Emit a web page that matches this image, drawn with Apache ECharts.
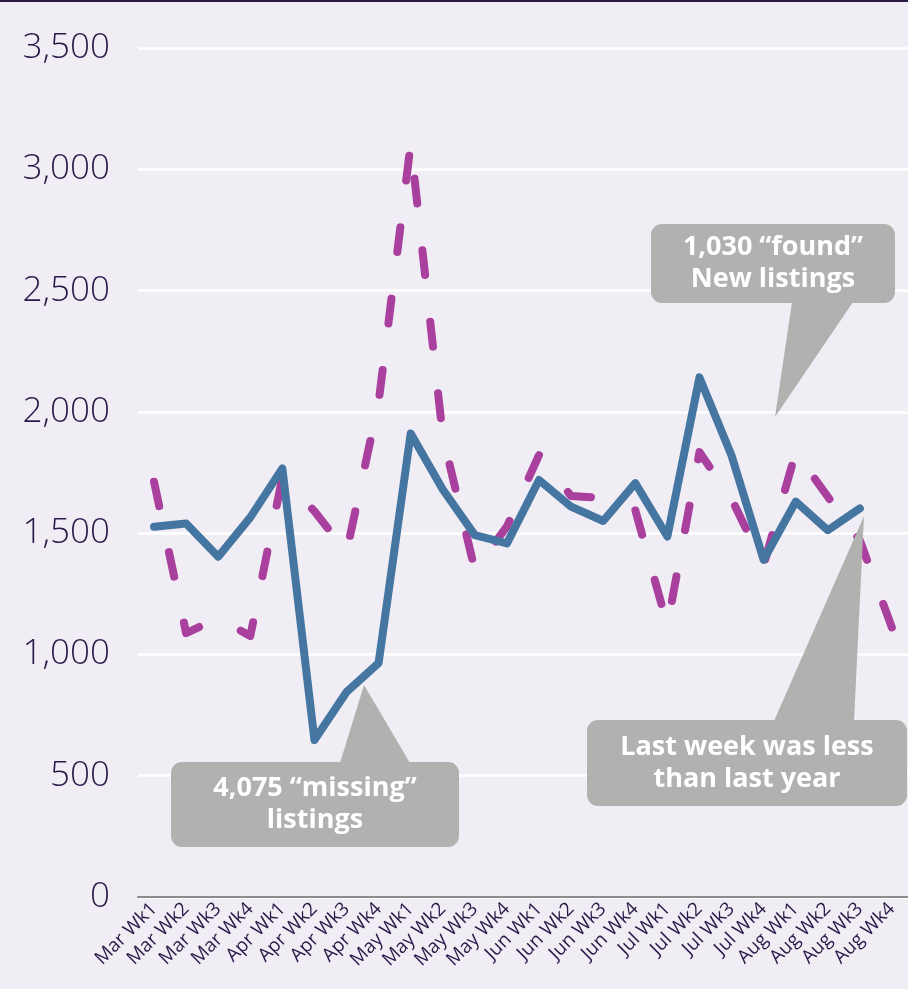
<!DOCTYPE html>
<html>
<head>
<meta charset="utf-8">
<title>New listings</title>
<script src="https://cdn.jsdelivr.net/npm/echarts@6/dist/echarts.min.js"></script>
<style>
  html, body { margin: 0; padding: 0; background: #f0edf5; }
  #chart { width: 908px; height: 989px; }
</style>
</head>
<body>
<div id="chart"></div>
<script>
// categories (weeks)
var weeks = ["Mar Wk1", "Mar Wk2", "Mar Wk3", "Mar Wk4",
  "Apr Wk1", "Apr Wk2", "Apr Wk3", "Apr Wk4",
  "May Wk1", "May Wk2", "May Wk3", "May Wk4",
  "Jun Wk1", "Jun Wk2", "Jun Wk3", "Jun Wk4",
  "Jul Wk1", "Jul Wk2", "Jul Wk3", "Jul Wk4",
  "Aug Wk1", "Aug Wk2", "Aug Wk3", "Aug Wk4"];

// this year (solid blue) - no value yet for the last week
var thisYear = [1526, 1540, 1403, 1565, 1767, 647, 845, 965,
  1911, 1680, 1492, 1458, 1719, 1609, 1550, 1706,
  1486, 2142, 1820, 1390, 1630, 1512, 1602, null];

// last year (dashed magenta)
var lastYear = [1712, 1088, 1150, 1076, 1730, 1590, 1422, 2040,
  3105, 1900, 1348, 1528, 1822, 1653, 1645, 1595,
  1120, 1834, 1641, 1368, 1834, 1650, 1470, 1110];

// y ticks
var yMin = 0;
var yMax = 3500;
var yStep = 500;

var callouts = [
  { text: "4,075 \u201cmissing\u201d\nlistings", box: [171, 762, 288, 85], tri: [[340, 763], [410, 763], [364, 685]] },
  { text: "1,030 \u201cfound\u201d\nNew listings", box: [651, 224, 244, 79], tri: [[792, 302], [853, 302], [775, 417]] },
  { text: "Last week was less\nthan last year", box: [587, 720, 320, 86], tri: [[774, 721], [854, 721], [864, 516]] }
];

var labelColor = "#2b1948";
var calloutColor = "#b1b2b0";

var graphics = [
  // dark rule along the top edge
  { type: "rect", left: 0, top: 0, shape: { width: 908, height: 2 }, style: { fill: "#2a1a45" } }
];
callouts.forEach(function (c) {
  graphics.push({
    type: "polygon", z: 100,
    shape: { points: c.tri },
    style: { fill: calloutColor }
  });
  graphics.push({
    type: "rect", z: 100,
    shape: { x: c.box[0], y: c.box[1], width: c.box[2], height: c.box[3], r: 11 },
    style: { fill: calloutColor }
  });
  graphics.push({
    type: "text", z: 101,
    x: c.box[0] + c.box[2] / 2,
    y: c.box[1] + c.box[3] / 2,
    style: {
      text: c.text,
      fill: "#ffffff",
      font: "bold 27px 'Open Sans', sans-serif",
      lineHeight: 32,
      align: "center",
      verticalAlign: "middle"
    }
  });
});

var chart = echarts.init(document.getElementById("chart"));
var option = {
  backgroundColor: "#f0edf5",
  animation: false,
  grid: { left: 138, top: 48, width: 773, height: 849 },
  xAxis: {
    type: "category",
    data: weeks,
    boundaryGap: true,
    axisLine: { lineStyle: { color: "#8c8c8c", width: 2 } },
    axisTick: { lineStyle: { color: "#8c8c8c", width: 2 }, length: 7 },
    axisLabel: {
      rotate: 45,
      interval: 0,
      margin: 9,
      color: labelColor,
      fontSize: 19,
      fontFamily: "'Open Sans', sans-serif"
    }
  },
  yAxis: {
    type: "value",
    min: yMin,
    max: yMax,
    interval: yStep,
    axisLine: { show: false },
    axisTick: { show: false },
    splitLine: { lineStyle: { color: "#ffffff", width: 2.5 } },
    axisLabel: {
      margin: 28,
      color: labelColor,
      fontSize: 35,
      fontWeight: 300,
      fontFamily: "'Open Sans', sans-serif",
      formatter: function (v) { return v.toLocaleString("en-US"); }
    }
  },
  series: [
    {
      name: "Last year",
      type: "line",
      data: lastYear,
      symbol: "none",
      z: 3,
      lineStyle: { color: "#a9409e", width: 8, type: [25, 47], cap: "round", join: "round" }
    },
    {
      name: "This year",
      type: "line",
      data: thisYear,
      symbol: "none",
      z: 4,
      lineStyle: { color: "#4576a2", width: 8, join: "round", cap: "round" }
    }
  ],
  graphic: graphics
};
chart.setOption(option);
</script>
</body>
</html>
